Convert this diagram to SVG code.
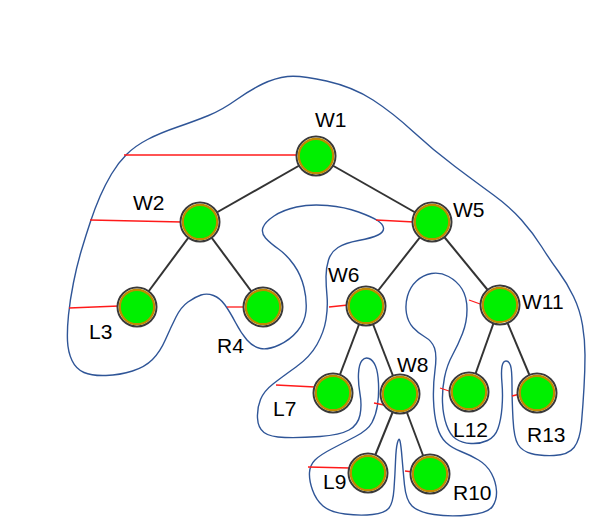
<svg xmlns="http://www.w3.org/2000/svg" width="613" height="527" viewBox="0 0 613 527">
<style>
.edge{stroke:#333;stroke-width:2;fill:none}
.thread{stroke:#ff1a1a;stroke-width:1.3;fill:none}
.tour{stroke:#2F5597;stroke-width:1.4;fill:none}
.lbl{font-family:"Liberation Sans",Arial,sans-serif;font-size:21px;fill:#000}
</style>
<defs>
<g id="nd">
<circle r="19.5" fill="#fff" stroke="#3a3a3a" stroke-width="2"/>
<circle r="17.2" fill="#00f000" stroke="#bf8a00" stroke-width="2.2"/>
</g>
</defs>
<rect width="613" height="527" fill="#fff"/>
<g id="connectors">
<path class="tour" d="M287.5,76.5 Q300,75 326.5,81 Q353,87 373,100 Q393,113 413,131.5 Q433,150 455,166.5 Q477,183 493.5,195 Q510,207 521.5,220 Q533,233 541.5,246.5 Q550,260 558.5,271.5 Q567,283 573.5,296.5 Q580,310 582.5,325 Q585,340 585,355 Q585,370 584,387.5 Q583,405 581.5,422.5 Q580,440 574,447.5 Q568,455 554,455.5 Q540,456 531,453.5 Q522,451 518,444.5 Q514,438 513,419 Q512,400 512,385 Q512,370 510.5,365.5 Q509,361 506,361 Q503,361 502,366.5 Q501,372 502,383.5 Q503,395 502,407.5 Q501,420 498,428.5 Q495,437 487.5,440.5 Q480,444 471,443.5 Q462,443 456,439 Q450,435 446.5,425 Q443,415 442.5,402.5 Q442,390 444.5,377.5 Q447,365 452.5,355 Q458,345 462.5,333.5 Q467,322 467,309.5 Q467,297 462,289 Q457,281 448.5,276.5 Q440,272 431.5,273.5 Q423,275 416.5,281 Q410,287 407.5,296 Q405,305 406.5,313.5 Q408,322 413,327.5 Q418,333 425,337 Q432,341 434.5,348 Q437,355 435,370 Q433,385 433.5,400 Q434,415 437,426 Q440,437 446,442.5 Q452,448 461,451.5 Q470,455 478.5,460 Q487,465 491.5,473.5 Q496,482 496.5,491 Q497,500 492.5,506.5 Q488,513 469,515 Q450,517 434,514.5 Q418,512 412,506 Q406,500 404.5,485 Q403,470 402,457.5 Q401,445 400,441 Q399,437 397.5,442.5 Q396,448 395.5,461.5 Q395,475 394,489 Q393,503 389,508 Q385,513 372.5,514.5 Q360,516 345,514 Q330,512 323,506 Q316,500 312.5,490 Q309,480 309.5,472.5 Q310,465 315,460 Q320,455 331.5,449 Q343,443 355.5,436.5 Q368,430 372,422.5 Q376,415 377.5,405 Q379,395 378.5,383.5 Q378,372 375.5,366 Q373,360 369,358.5 Q365,357 362,360.5 Q359,364 358.5,373.5 Q358,383 360,394 Q362,405 360,415 Q358,425 349,430 Q340,435 320,436.5 Q300,438 285,437.5 Q270,437 264,432.5 Q258,428 257.5,418 Q257,408 260.5,399.5 Q264,391 273,384 Q282,377 296,367 Q310,357 317,344.5 Q324,332 326,319.5 Q328,307 327,296 Q326,285 326,276.5 Q326,268 328.5,260 Q331,252 338,247.5 Q345,243 358.5,240.5 Q372,238 378,235 Q384,232 383.5,228 Q383,224 377.5,220.5 Q372,217 358.5,212 Q345,207 327.5,205.5 Q310,204 296.5,207 Q283,210 274,216 Q265,222 263,227.5 Q261,233 265.5,238 Q270,243 278.5,249 Q287,255 294,265 Q301,275 304,287.5 Q307,300 306,311 Q305,322 297.5,331 Q290,340 279,345 Q268,350 260.5,348.5 Q253,347 247,340 Q241,333 235.5,322.5 Q230,312 225,305 Q220,298 213.5,295.5 Q207,293 201,295 Q195,297 188,302 Q181,307 176,317 Q171,327 165.5,339.5 Q160,352 152.5,359.5 Q145,367 132.5,371 Q120,375 106,375.5 Q92,376 84,372.5 Q76,369 72,360.5 Q68,352 67.5,341 Q67,330 68.5,315 Q70,300 73.5,282.5 Q77,265 81.5,250 Q86,235 90.5,221.5 Q95,208 100,196.5 Q105,185 111.5,174 Q118,163 126.5,154.5 Q135,146 147.5,139.5 Q160,133 177.5,127 Q195,121 208.5,115.5 Q222,110 236,100 Q250,90 262.5,84 Q275,78 287.5,76.5 Z"/>
<line class="edge" x1="316" y1="156" x2="200" y2="222"/>
<line class="edge" x1="316" y1="156" x2="432" y2="222"/>
<line class="edge" x1="200" y1="222" x2="137" y2="307"/>
<line class="edge" x1="200" y1="222" x2="263" y2="307"/>
<line class="edge" x1="432" y1="222" x2="366" y2="306"/>
<line class="edge" x1="432" y1="222" x2="500" y2="305"/>
<line class="edge" x1="366" y1="306" x2="333" y2="393"/>
<line class="edge" x1="366" y1="306" x2="400" y2="394"/>
<line class="edge" x1="400" y1="394" x2="368" y2="473"/>
<line class="edge" x1="400" y1="394" x2="430" y2="474"/>
<line class="edge" x1="500" y1="305" x2="469" y2="392"/>
<line class="edge" x1="500" y1="305" x2="537" y2="393"/>
<line class="thread" x1="124" y1="155" x2="298" y2="155"/>
<line class="thread" x1="90" y1="220" x2="182" y2="222"/>
<line class="thread" x1="69" y1="308" x2="119" y2="306"/>
<line class="thread" x1="227" y1="307" x2="245" y2="307"/>
<line class="thread" x1="376" y1="220" x2="414" y2="222"/>
<line class="thread" x1="329" y1="307" x2="348" y2="305"/>
<line class="thread" x1="469" y1="300" x2="483" y2="305"/>
<line class="thread" x1="276" y1="385" x2="315" y2="387"/>
<line class="thread" x1="374" y1="403" x2="389" y2="406"/>
<line class="thread" x1="440" y1="388" x2="452" y2="392"/>
<line class="thread" x1="512" y1="396" x2="520" y2="394"/>
<line class="thread" x1="308" y1="467" x2="350" y2="468"/>
<line class="thread" x1="405" y1="471" x2="413" y2="472"/>
</g>
<g id="W1"><use href="#nd" x="316" y="156"/><text class="lbl" x="315" y="127">W1</text></g>
<g id="W2"><use href="#nd" x="200" y="222"/><text class="lbl" x="133" y="210">W2</text></g>
<g id="W5"><use href="#nd" x="432" y="222"/><text class="lbl" x="453" y="217">W5</text></g>
<g id="L3"><use href="#nd" x="137" y="307"/><text class="lbl" x="89" y="339">L3</text></g>
<g id="R4"><use href="#nd" x="263" y="307"/><text class="lbl" x="217" y="353">R4</text></g>
<g id="W6"><use href="#nd" x="366" y="306"/><text class="lbl" x="328" y="282">W6</text></g>
<g id="W11"><use href="#nd" x="500" y="305"/><text class="lbl" x="522" y="309">W11</text></g>
<g id="L7"><use href="#nd" x="333" y="393"/><text class="lbl" x="273" y="416">L7</text></g>
<g id="W8"><use href="#nd" x="400" y="394"/><text class="lbl" x="397" y="372">W8</text></g>
<g id="L12"><use href="#nd" x="469" y="392"/><text class="lbl" x="453" y="437">L12</text></g>
<g id="R13"><use href="#nd" x="537" y="393"/><text class="lbl" x="527" y="442">R13</text></g>
<g id="L9"><use href="#nd" x="368" y="473"/><text class="lbl" x="323" y="489">L9</text></g>
<g id="R10"><use href="#nd" x="430" y="474"/><text class="lbl" x="453" y="500">R10</text></g>
</svg>
